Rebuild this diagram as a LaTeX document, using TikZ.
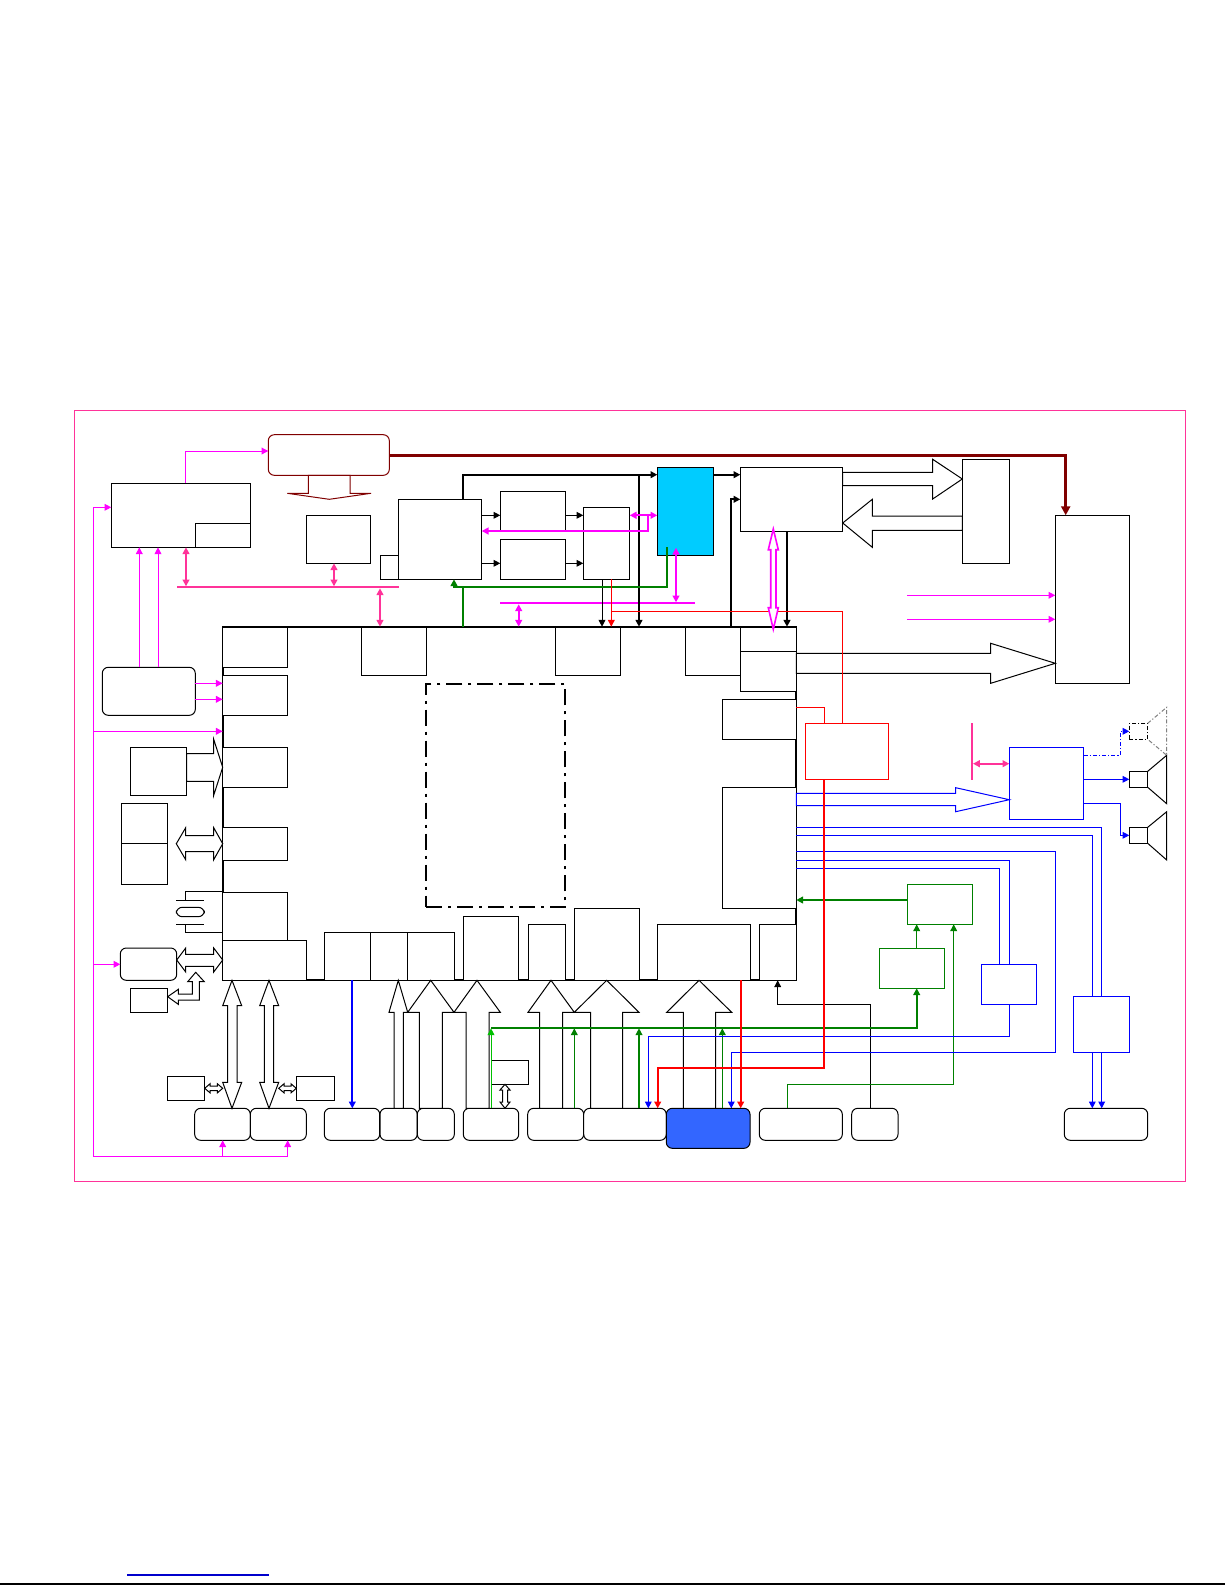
\documentclass[tikz,border=0pt]{standalone}
\usepackage{xcolor}
\usetikzlibrary{positioning, fit, arrows.meta}
\definecolor{pinkline}{HTML}{FF3399}
\definecolor{magline}{HTML}{FF00FF}
\definecolor{maroonline}{HTML}{800000}
\definecolor{greenline}{HTML}{008000}
\definecolor{cyanfill}{HTML}{00CCFF}
\definecolor{bluefill}{HTML}{3366FF}
\tikzset{
  blk/.style={draw,fill=white,inner sep=0pt,outer sep=0pt,line width=.5pt},
  rnd/.style={blk,rounded corners=3pt},
  gblk/.style={blk,draw=greenline},
  bblk/.style={blk,draw=blue},
  rblk/.style={blk,draw=red},
  bar/.style={inner sep=0pt,outer sep=0pt},
  mag/.style={draw=magline,line width=.5pt},
  magb/.style={draw=magline,line width=1pt},
  pnk/.style={draw=pinkline,line width=1pt},
  blu/.style={draw=blue,line width=.5pt},
  grn/.style={draw=greenline,line width=.6pt},
  grnb/.style={draw=greenline,line width=1pt},
  redl/.style={draw=red,line width=.5pt},
  redb/.style={draw=red,line width=1pt},
  thn/.style={draw=black,line width=.5pt},
  thk/.style={draw=black,line width=1pt},
  blockarr/.style={draw=black,fill=white,line width=.5pt,line join=miter},
  dashdot/.style={dash pattern=on 2pt off 1pt on .6pt off 1pt}
}
\begin{document}
\begin{tikzpicture}[x=.5pt,y=-.5pt,>={Triangle[length=3.4pt,width=3.4pt]}]
\useasboundingbox (0,0) rectangle (1225,1585);
\draw[pinkline,line width=.5pt] (74.3,410) rectangle (1185.7,1181.7);
\draw[black,line width=.6pt] (0,1584) -- (1225,1584);
\draw[blue!80!black,line width=.6pt] (127,1575) -- (268.7,1575);

% main chip and what sits in it
\node[blk,line width=1pt,fit={(222.7,626.7)(796.3,980.3)}] (chip) {};
\node[blk,line width=1pt,dash pattern=on 8pt off 3pt on 1.5pt off 3pt,fit={(426,684)(565,907.3)}] (core) {};
\node[blk,fit={(222.7,626.7)(287.3,667.3)}] (d1) {};
\node[blk,fit={(222.7,675.3)(287.3,715.3)}] (d2) {};
\node[blk,fit={(222.7,747.3)(287.3,787.3)}] (d3) {};
\node[blk,fit={(222.7,827.3)(287.3,860.3)}] (d4) {};
\node[blk,fit={(222.7,892.3)(287.3,940.3)}] (d5) {};
\node[blk,fit={(361.3,626.7)(426.7,675.3)}] (e1) {};
\node[blk,fit={(555.3,626.7)(620.3,675.3)}] (e2) {};
\node[blk,fit={(685.3,626.7)(740.3,675.3)}] (e3) {};
\node[blk,fit={(740.3,626.7)(796.3,651.3)}] (k1) {};
\node[blk,fit={(740.3,651.3)(796.3,691.3)}] (k2) {};
\node[blk,fit={(722.3,699.3)(796.3,739.3)}] (m1) {};
\node[blk,fit={(722.3,787.3)(796.3,908.3)}] (m2) {};
\node[blk,fit={(222.7,940.3)(306.7,980.3)}] (c1) {};
\node[blk,fit={(324.3,932.3)(370.3,980.3)}] (c2) {};
\node[blk,fit={(370.3,932.3)(407.7,980.3)}] (c3) {};
\node[blk,fit={(407.7,932.3)(454.7,980.3)}] (c4) {};
\node[blk,fit={(463.3,916.3)(518.7,980.3)}] (c5) {};
\node[blk,fit={(528.3,924.3)(565.7,980.3)}] (c6) {};
\node[blk,fit={(574.3,908.3)(639.7,980.3)}] (c7) {};
\node[blk,fit={(657.3,924.3)(750.7,980.3)}] (c8) {};
\node[blk,fit={(759.3,924.3)(796.3,980.3)}] (c9) {};
\draw[thk] (chip.north west) -- (chip.north east);

% top row
\node[blk,fit={(111.3,483.3)(250.7,547.3)}] (boxa) {};
\node[blk,fit={(195.3,523.3)(250.7,547.3)}] (boxai) {};
\node[rnd,draw=maroonline,fit={(268.3,434.7)(389.3,475.3)}] (rtop) {};
\node[blk,fit={(306.3,515.3)(370.7,563.3)}] (boxb) {};
\node[blk,fit={(398.3,499.3)(481.7,579.3)}] (boxc) {};
\node[blk,fit={(380.3,555.3)(398.3,579.3)}] (boxci) {};
\node[blk,fit={(500.3,491.3)(565.7,531)}] (h1) {};
\node[blk,fit={(500.3,539.3)(565.7,579.3)}] (h2) {};
\node[blk,fit={(583.3,507.3)(629.7,579.3)}] (boxi) {};
\node[blk,fill=cyanfill,fit={(657.3,467.3)(713.7,555.7)}] (cyanbox) {};
\node[blk,fit={(740.3,467.3)(842.7,531.3)}] (boxg) {};
\node[blk,fit={(962.3,459.3)(1009.7,563.3)}] (boxo) {};
\node[blk,fit={(1055.3,515.3)(1129.7,683.3)}] (boxn) {};
\node[bar,fill=pinkline,fit={(176.7,586.3)(398.7,588.3)}] (busa) {};
\node[bar,fill=magline,fit={(500,602.3)(694.7,604.3)}] (busb) {};
\node[bar,fill=pinkline,fit={(971,723.3)(973,780)}] (busc) {};

% left column
\node[rnd,fit={(102.3,667.3)(195.3,715.3)}] (rleft) {};
\node[blk,fit={(130.3,747.3)(186.7,795.3)}] (boxy) {};
\node[blk,fit={(121.3,803.3)(167.7,843.3)}] (z1) {};
\node[blk,fit={(121.3,843.3)(167.7,884.3)}] (z2) {};
\node[rnd,fit={(176.3,907.3)(204.3,916.7)}] (xtal) {};
\node[rnd,fit={(120.3,948)(176.7,980.3)}] (rmem) {};
\node[blk,fit={(130.3,988.3)(167.7,1012.3)}] (smem) {};
\node[blk,fit={(167.3,1076.3)(204.7,1100.3)}] (s1) {};
\node[blk,fit={(296.3,1076.3)(334.7,1100.3)}] (s2) {};
\node[blk,fit={(491.3,1060.3)(528.7,1084.3)}] (s3) {};

% bottom row
\node[rnd,fit={(194.7,1108.3)(250.3,1140.3)}] (r1) {};
\node[rnd,fit={(250.3,1108.3)(306.3,1140.3)}] (r2) {};
\node[rnd,fit={(324.3,1108.3)(379.7,1140.3)}] (r3) {};
\node[rnd,fit={(380,1108.3)(417.2,1140.3)}] (r4) {};
\node[rnd,fit={(417.3,1108.3)(454.3,1140.3)}] (r5) {};
\node[rnd,fit={(463.3,1108.3)(518.7,1140.3)}] (r6) {};
\node[rnd,fit={(527.7,1108.3)(583.7,1140.3)}] (r7) {};
\node[rnd,fit={(583.7,1108.3)(666.3,1140.3)}] (r8) {};
\node[rnd,fill=bluefill,fit={(666.3,1108.3)(750,1148.3)}] (r9) {};
\node[rnd,fit={(759.3,1108.3)(842.3,1140.3)}] (r10) {};
\node[rnd,fit={(851.7,1108.3)(898,1140.3)}] (r11) {};
\node[rnd,fit={(1064.3,1108.3)(1147.7,1140.3)}] (r12) {};

% right side
\node[rblk,fit={(805.7,723.3)(888.7,779.3)}] (redbox) {};
\node[bblk,fit={(1009.3,747.3)(1083.7,819.3)}] (amp) {};
\node[gblk,fit={(907.3,884.3)(972.7,924.3)}] (gt) {};
\node[gblk,fit={(879.3,948.3)(944.7,988.3)}] (gu) {};
\node[bblk,fit={(981.3,964.3)(1036.7,1004.3)}] (br) {};
\node[bblk,fit={(1073.3,996.3)(1129.3,1052.3)}] (bq) {};
\node[blk,dashdot,fit={(1129.3,723.3)(1147.7,739.3)}] (spk1) {};
\node[blk,fit={(1129.3,771.3)(1147.7,787.3)}] (spk2) {};
\node[blk,fit={(1129.3,827.3)(1147.7,843.3)}] (spk3) {};
\draw[gray,line width=.5pt,dashdot] (spk1.north east) -- (1166.7,707.3) -- (1166.7,755.3) -- (spk1.south east);
\draw[thn] (spk2.north east) -- (1166.7,755.3) -- (1166.7,803.7) -- (spk2.south east);
\draw[thn] (spk3.north east) -- (1166.7,811.7) -- (1166.7,860) -- (spk3.south east);

% crystal
\draw[thn] (d5.west |- 0,891.7) -| (185.7,900);
\draw[thn] (176.3,900) -- (204.3,900);
\draw[thn] (176.3,924) -- (204.3,924);
\draw[thn] (d5.west |- 0,932) -| (185.7,924);

% wide arrows
\draw[blockarr,draw=maroonline] (rtop.south -| 308.3,0) -- (308.3,493.3) -- (287.3,493.3) -- (329.3,499.3) -- (371,493.3) -- (350,493.3) -- (rtop.south -| 350,0) -- cycle;
\draw[blockarr] (boxg.east |- 0,472.3) -- (932.7,472.3) -- (932.7,459.3) -- (boxo.west |- 0,479) -- (932.7,499) -- (932.7,485.7) -- (boxg.east |- 0,485.7) -- cycle;
\draw[blockarr] (boxo.west |- 0,516) -- (872.3,516) -- (872.3,499.3) -- (boxg.east |- 0,523) -- (872.3,547.3) -- (872.3,530.3) -- (boxo.west |- 0,530.3) -- cycle;
\draw[blockarr] (chip.east |- 0,653.3) -- (990.7,653.3) -- (990.7,643.3) -- (boxn.west |- 0,663.3) -- (990.7,683.3) -- (990.7,673.3) -- (chip.east |- 0,673.3) -- cycle;
\draw[blockarr,draw=blue] (chip.east |- 0,793.3) -- (955.7,793.3) -- (955.7,787.7) -- (amp.west |- 0,799.7) -- (955.7,811.7) -- (955.7,805.7) -- (chip.east |- 0,805.7) -- cycle;
\draw[blockarr] (boxy.east |- 0,753.7) -- (213.7,753.7) -- (213.7,739.3) -- (d3.west |- 0,767.3) -- (213.7,795.3) -- (213.7,781.3) -- (boxy.east |- 0,781.3) -- cycle;
\draw[blockarr] (176.3,843.7) -- (185.7,827.7) -- (185.7,835.7) -- (213.7,835.7) -- (213.7,827.7) -- (d4.west |- 0,843.7) -- (213.7,859.7) -- (213.7,851.7) -- (185.7,851.7) -- (185.7,859.7) -- cycle;
\draw[blockarr] (rmem.east |- 0,960) -- (185.7,948) -- (185.7,954.3) -- (213.7,954.3) -- (213.7,948) -- (c1.west |- 0,960) -- (213.7,972) -- (213.7,966.3) -- (185.7,966.3) -- (185.7,972) -- cycle;
\draw[blockarr] (195.7,972.3) -- (204.3,981.7) -- (199.3,981.7) -- (199.3,1000) -- (178.3,1000) -- (178.3,1004.3) -- (smem.east |- 0,996.7) -- (178.3,989.3) -- (178.3,994) -- (192.3,994) -- (192.3,981.7) -- (187.7,981.7) -- cycle;
\draw[blockarr] (c1.south -| 232,0) -- (241.7,1005.7) -- (237,1005.7) -- (237,1082.3) -- (241.7,1082.3) -- (r1.north -| 232,0) -- (222.7,1082.3) -- (227.7,1082.3) -- (227.7,1005.7) -- (222.7,1005.7) -- cycle;
\draw[blockarr] (c1.south -| 269,0) -- (278.7,1005.7) -- (273.7,1005.7) -- (273.7,1082.3) -- (278.7,1082.3) -- (r2.north -| 269,0) -- (259.7,1082.3) -- (264.3,1082.3) -- (264.3,1005.7) -- (259.7,1005.7) -- cycle;
\draw[blockarr] (s1.east) -- (210,1083.8) -- (210,1086) -- (217.4,1086) -- (217.4,1083.8) -- (222.7,1088.3) -- (217.4,1092.8) -- (217.4,1090.6) -- (210,1090.6) -- (210,1092.8) -- cycle;
\draw[blockarr] (s2.west) -- (291,1083.8) -- (291,1086) -- (284,1086) -- (284,1083.8) -- (278.7,1088.3) -- (284,1092.8) -- (284,1090.6) -- (291,1090.6) -- (291,1092.8) -- cycle;
\draw[blockarr] (s3.south -| 505,0) -- (510,1090) -- (507.5,1090) -- (507.5,1102) -- (510,1102) -- (r6.north -| 505,0) -- (500,1102) -- (502.5,1102) -- (502.5,1090) -- (500,1090) -- cycle;

% wide arrows into the bottom of the chip
\draw[blockarr] (r4.north -| 394,0) -- (394,1012.3) -- (389,1012.3) -- (chip.south -| 398.3,0) -- (407.7,1012.3) -- (403.3,1012.3) -- (r4.north -| 403.3,0) -- cycle;
\draw[blockarr] (r5.north -| 419.3,0) -- (419.3,1012.3) -- (407.7,1012.3) -- (chip.south -| 430.7,0) -- (454,1012.3) -- (442.3,1012.3) -- (r5.north -| 442.3,0) -- cycle;
\draw[blockarr] (r6.north -| 466,0) -- (466,1012.3) -- (454,1012.3) -- (chip.south -| 477,0) -- (500.3,1012.3) -- (489,1012.3) -- (r6.north -| 489,0) -- cycle;
\draw[blockarr] (r7.north -| 539.7,0) -- (539.7,1012.3) -- (528,1012.3) -- (chip.south -| 551,0) -- (574.3,1012.3) -- (562.7,1012.3) -- (r7.north -| 562.7,0) -- cycle;
\draw[blockarr] (r8.north -| 590.7,0) -- (590.7,1012.3) -- (574.3,1012.3) -- (chip.south -| 606.7,0) -- (639,1012.3) -- (622.7,1012.3) -- (r8.north -| 622.7,0) -- cycle;
\draw[blockarr] (r9.north -| 683.3,0) -- (683.3,1012.3) -- (666.7,1012.3) -- (chip.south -| 699,0) -- (731.7,1012.3) -- (715.7,1012.3) -- (r9.north -| 715.7,0) -- cycle;

% black signals
\draw[thk,->] (boxc.north -| 463.3,0) |- (cyanbox.west |- 0,474.7);
\draw[thk,->] (639,474.7) -- (chip.north -| 639,0);
\draw[thk,->] (cyanbox.east |- 0,474.7) -- (boxg.west |- 0,474.7);
\draw[thk,->] (chip.north -| 731.3,0) |- (boxg.west |- 0,499.3);
\draw[thk,->] (boxg.south -| 787,0) -- (chip.north -| 787,0);
\draw[thn,->] (boxc.east |- 0,515.3) -- (h1.west |- 0,515.3);
\draw[thn,->] (boxc.east |- 0,563.3) -- (h2.west |- 0,563.3);
\draw[thn,->] (h1.east |- 0,515.3) -- (boxi.west |- 0,515.3);
\draw[thn,->] (h2.east |- 0,563.3) -- (boxi.west |- 0,563.3);
\draw[thn,->] (boxi.south -| 602,0) -- (chip.north -| 602,0);
\draw[thn,->] (r11.north -| 870.3,0) |- (777.7,1004.3) -- (chip.south -| 777.7,0);

% magenta and pink signals
\draw[mag,->] (boxa.north -| 185.3,0) |- (rtop.west |- 0,451);
\draw[mag,->] (rleft.north -| 139.3,0) -- (boxa.south -| 139.3,0);
\draw[mag,->] (rleft.north -| 158,0) -- (boxa.south -| 158,0);
\draw[mag,->] (rleft.east |- 0,683.3) -- (d2.west |- 0,683.3);
\draw[mag,->] (rleft.east |- 0,699.3) -- (d2.west |- 0,699.3);
\coordinate (magbot) at (93.3,1156.3);
\draw[mag,->] (magbot) |- (boxa.west |- 0,507.3);
\draw[mag,->] (magbot |- 0,731.3) -- (chip.west |- 0,731.3);
\draw[mag,->] (magbot |- 0,964.3) -- (rmem.west |- 0,964.3);
\draw[mag,->] (magbot) -| (r2.south -| 287.7,0);
\draw[mag,->] (magbot -| 222.7,0) -- (r1.south -| 222.7,0);
\draw[mag,->] (907.3,595.3) -- (boxn.west |- 0,595.3);
\draw[mag,->] (907.3,619.3) -- (boxn.west |- 0,619.3);
\draw[pnk,<->] (boxa.south -| 186,0) -- (busa.north -| 186,0);
\draw[pnk,<->] (boxb.south -| 334,0) -- (busa.north -| 334,0);
\draw[pnk,<->] (busa.south -| 380,0) -- (chip.north -| 380,0);
\draw[pnk,<->] (busc.east |- 0,763.7) -- (amp.west |- 0,763.7);
\draw[magb,<->] (boxi.east |- 0,515.3) -- (cyanbox.west |- 0,515.3);
\draw[magb,->] (648,515.3) |- (boxc.east |- 0,531);
\coordinate (cyanm) at (676,547.7);
\draw[magb,<->] (cyanm) -- (busb.north -| 676,0);
\draw[magb,<->] (busb.south -| 518.7,0) -- (chip.north -| 518.7,0);

% green signals
\coordinate (cyang) at (666.7,547.3);
\draw[grnb] (cyang) |- (463,587);
\draw[grnb,->] (463,587) -| (boxc.south -| 454,0);
\draw[grnb] (chip.north -| 463,0) -- (463,587);
\draw[grnb,->] (gt.west |- 0,900) -- (chip.east |- 0,900);
\draw[grn,->] (gu.north -| 916.7,0) -- (gt.south -| 916.7,0);
\draw[grn,->] (r10.north -| 787.3,0) |- (953.7,1084.3) -- (gt.south -| 953.7,0);
\draw[grnb,->] (491,1028.3) -| (gu.south -| 916.7,0);
\draw[grn,green!50!greenline,line width=.5pt,->] (r6.north -| 491,0) -- (491,1028.3);
\draw[grn,->] (r7.north -| 574.3,0) -- (574.3,1028.3);
\draw[grn,->] (r8.north -| 639,0) -- (639,1028.3);
\draw[grn,->] (r9.north -| 722.3,0) -- (722.3,1028.3);

% blue signals
\draw[draw=blue,line width=1pt,->] (chip.south -| 352.3,0) -- (r3.north -| 352.3,0);
\draw[blu] (chip.east |- 0,827.7) -| (bq.north -| 1101.7,0);
\draw[blu] (chip.east |- 0,835.7) -| (bq.north -| 1092.3,0);
\draw[blu] (chip.east |- 0,860) -| (br.north -| 1009,0);
\draw[blu] (chip.east |- 0,868) -| (br.north -| 999.7,0);
\draw[blu] (chip.east |- 0,851.7) -| (1055.3,1052.3) -| (r9.north -| 731.3,0);
\draw[blu,->] (731.3,1090) -- (r9.north -| 731.3,0);
\draw[blu,->] (br.south -| 1009.3,0) |- (648.3,1036.3) -- (r8.north -| 648.3,0);
\draw[blu,->] (bq.south -| 1092.3,0) -- (r12.north -| 1092.3,0);
\draw[blu,->] (bq.south -| 1101.7,0) -- (r12.north -| 1101.7,0);
\draw[blu,->] (amp.east |- 0,779.3) -- (spk2.west);
\draw[blu,->] (amp.east |- 0,803.7) -| (1120.3,835.3) -- (spk3.west);
\draw[blu,dashdot,->] (amp.east |- 0,755.3) -| (1120.3,731.3) -- (spk1.west);

% maroon and red signals
\draw[draw=maroonline,line width=1.5pt,-{Triangle[length=4.5pt,width=4.5pt]}] (rtop.east |- 0,455) -| (boxn.north -| 1065.7,0);
\draw[redl,->] (boxi.south -| 611.3,0) -- (chip.north -| 611.3,0);
\draw[redl] (611.3,611.3) -| (redbox.north -| 842.3,0);
\draw[redl] (m1.east |- 0,707.3) -| (redbox.north -| 824,0);
\draw[redb,->] (redbox.south -| 824,0) |- (657.7,1068) -- (r8.north -| 657.7,0);
\draw[redb,->] (chip.south -| 740.7,0) -- (r9.north -| 740.7,0);

% wide magenta arrow
\draw[blockarr,draw=magline,line width=.8pt] (773.3,529) -- (778.3,549.7) -- (776,549.7) -- (776,607.7) -- (778.3,607.7) -- (773.3,629.3) -- (768.3,607.7) -- (770.7,607.7) -- (770.7,549.7) -- (768.3,549.7) -- cycle;
\end{tikzpicture}
\end{document}
